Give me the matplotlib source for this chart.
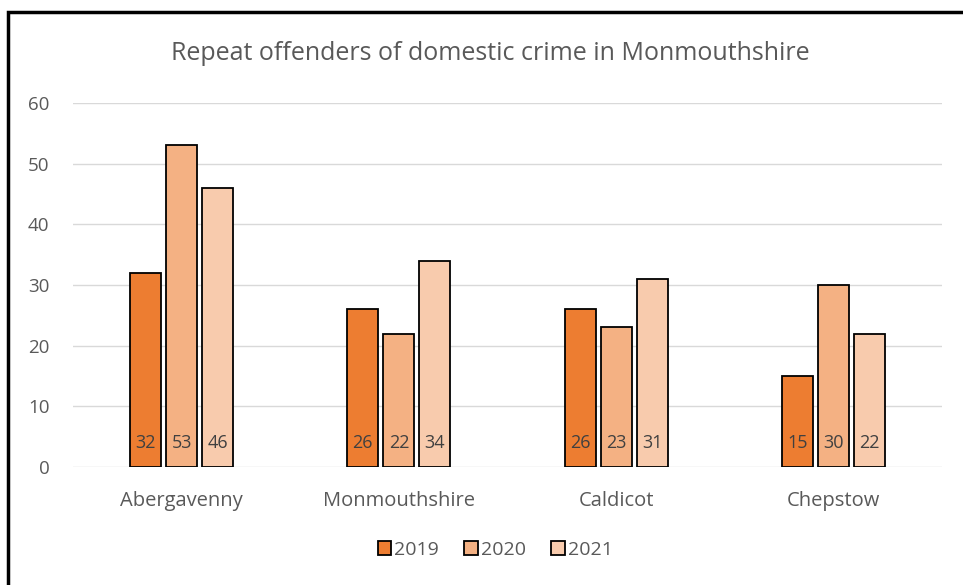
import matplotlib
matplotlib.use("Agg")
import matplotlib.pyplot as plt
import numpy as np
from matplotlib.patches import Rectangle

categories = ["Abergavenny", "Monmouthshire", "Caldicot", "Chepstow"]
years = ["2019", "2020", "2021"]
v2019 = [32, 26, 26, 15]
v2020 = [53, 22, 23, 30]
v2021 = [46, 34, 31, 22]
series = [v2019, v2020, v2021]
colors = ["#ED7D31", "#F4B183", "#F8CBAD"]
yticks = [0, 10, 20, 30, 40, 50, 60]

plt.rcParams['font.family'] = ['Open Sans', 'DejaVu Sans']
W, H = 963, 585
fig = plt.figure(figsize=(W/100, H/100), dpi=100)
ax = fig.add_axes([73/W, 1-467/H, (942-73)/W, (467-103)/H])

x = np.arange(len(categories))
bw = 0.143
step = 0.166
for i, (vals, c, yr) in enumerate(zip(series, colors, years)):
    pos = x + (i-1)*step
    ax.bar(pos, vals, width=bw, color=c, edgecolor="black", linewidth=1.3, label=yr, zorder=3)
    for p, v in zip(pos, vals):
        ax.text(p, 4.0, str(v), ha="center", va="center", fontsize=13, color="#404040", zorder=4)

ax.set_xlim(-0.5, 3.5)
ax.set_ylim(0, 60)
ax.set_yticks(yticks)
ax.set_xticks(x)
ax.set_xticklabels(categories)
ax.tick_params(axis="both", length=0, colors="#595959")
ax.tick_params(axis="y", pad=17, labelsize=13.5)
ax.tick_params(axis="x", pad=17, labelsize=14.5)
ax.grid(axis="y", color="#D9D9D9", linewidth=1, zorder=0)
for s in ax.spines.values():
    s.set_visible(False)

fig.text(490/W, 1-54/H, "Repeat offenders of domestic crime in Monmouthshire", ha="center", va="center",
         fontsize=18, color="#595959")

ax.legend(loc="center", bbox_to_anchor=(495/W, 1-550/H), bbox_transform=fig.transFigure,
          ncol=3, frameon=False, fontsize=14, handlelength=0.7, handleheight=0.7,
          handletextpad=0.15, columnspacing=1.3, labelcolor="#595959")

fig.patches.append(Rectangle((8/W, -0.1), 1.2, 1-12/H+0.1, transform=fig.transFigure,
                             fill=False, edgecolor="black", linewidth=2.5))

fig.savefig("out.png", dpi=100)
